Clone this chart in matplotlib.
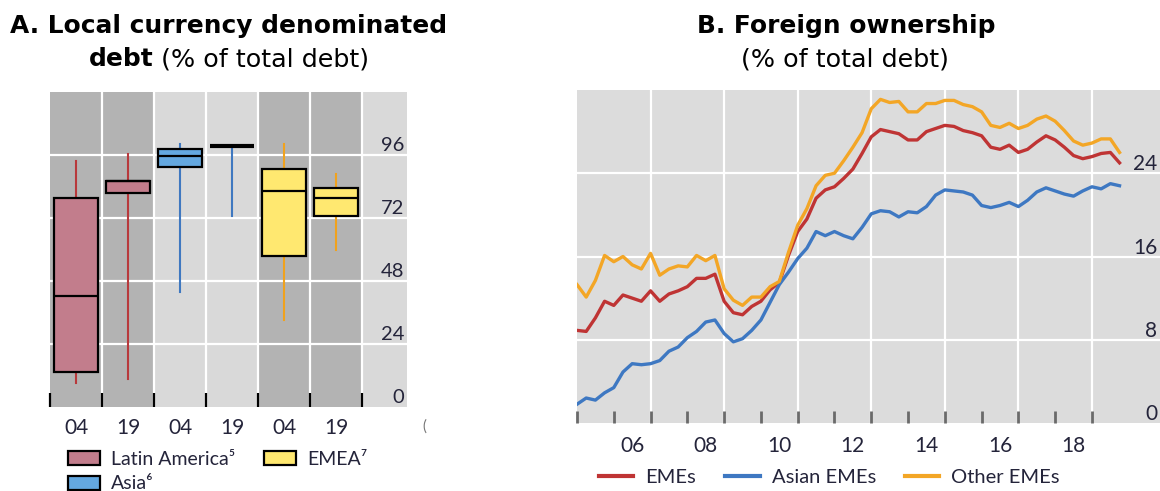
import matplotlib
matplotlib.use("Agg")
import matplotlib.pyplot as plt
import matplotlib.transforms as mtransforms
from matplotlib.patches import Patch
from matplotlib.lines import Line2D
import pandas as pd

# ---- panel A: box plot stats (% of total debt) ----
box_labels = ["04", "19", "04", "19", "04", "19"]
box_regions = ["Latin America", "Latin America", "Asia", "Asia", "EMEA", "EMEA"]
whis_lo = [9.0, 10.6, 43.8, 72.9, 33.3, 59.8]
q1 = [13.2, 81.7, 91.5, 99.4, 57.7, 72.9]
medians = [42.2, 86.0, 95.6, 99.4, 82.1, 79.6]
q3 = [79.6, 86.1, 98.2, 99.4, 90.8, 83.6]
whis_hi = [93.7, 96.3, 100.1, 99.4, 100.1, 88.7]

region_names = ["Latin America⁵", "Asia⁶", "EMEA⁷"]
region_fill = {"Latin America": "#c27d8c", "Asia": "#64a8e0", "EMEA": "#ffe870"}
region_line = {"Latin America": "#b8393c", "Asia": "#3f78c0", "EMEA": "#f0a21e"}

# ---- panel B: foreign ownership, quarterly 2005Q1-2019Q4 ----
quarters = pd.period_range("2005Q1", "2019Q4", freq="Q")
emes = [8.9, 8.8, 10.1, 11.7, 11.3, 12.3, 12.0, 11.7, 12.7, 11.7, 12.4, 12.7,
        13.1, 13.9, 13.9, 14.3, 11.7, 10.6, 10.4, 11.2, 11.7, 12.8,
        13.5, 16.1, 18.4, 19.6, 21.6, 22.4, 22.7, 23.5, 24.4, 25.9, 27.5, 28.2,
        28.0, 27.8, 27.2, 27.2, 28.0, 28.3, 28.6, 28.5,
        28.1, 27.9, 27.6, 26.5, 26.3, 26.7, 26.0, 26.3, 27.0, 27.6, 27.2, 26.5,
        25.7, 25.4, 25.6, 25.9, 26.0, 25.0]
asian_emes = [1.8, 2.4, 2.2, 2.9, 3.4, 4.9, 5.7, 5.6, 5.7, 6.0, 6.9, 7.3,
              8.2, 8.8, 9.7, 9.9, 8.6, 7.8, 8.1, 8.9, 9.9, 11.6,
              13.3, 14.5, 15.8, 16.8, 18.4, 18.0, 18.4, 18.0, 17.7, 18.8, 20.1, 20.4,
              20.3, 19.8, 20.3, 20.2, 20.8, 21.9, 22.4, 22.3,
              22.2, 21.9, 20.9, 20.7, 20.9, 21.2, 20.8, 21.4, 22.2, 22.6, 22.3, 22.0,
              21.8, 22.3, 22.7, 22.5, 23.0, 22.8]
other_emes = [13.3, 12.1, 13.7, 16.1, 15.5, 16.0, 15.2, 14.8, 16.3, 14.2, 14.8, 15.1,
              15.0, 16.1, 15.6, 16.1, 12.9, 11.8, 11.3, 12.1, 12.1, 13.1,
              13.6, 16.4, 19.0, 20.6, 22.8, 23.8, 24.0, 25.2, 26.5, 27.9, 30.2, 31.1,
              30.8, 30.9, 29.9, 29.9, 30.7, 30.7, 31.0, 31.0,
              30.6, 30.4, 29.9, 28.6, 28.4, 28.8, 28.3, 28.6, 29.2, 29.5, 29.0, 28.1,
              27.1, 26.7, 26.9, 27.3, 27.3, 26.0]
year_labels = ["06", "08", "10", "12", "14", "16", "18"]

FONT = ["Lato", "DejaVu Sans"]
TITLE_FONT = ["DejaVu Sans"]
TXT = "#24243a"
plt.rcParams["font.family"] = FONT

fig = plt.figure(figsize=(11.6, 4.91), dpi=100)
W, H = 1160, 491


def px_axes(l, t, r, b):
    return fig.add_axes([l / W, 1 - b / H, (r - l) / W, (b - t) / H])


lift = mtransforms.ScaledTranslation(0, 0.11, fig.dpi_scale_trans)

# ================= panel A =================
axA = px_axes(50, 92, 407, 407)
ncol = 6.865
axA.set_xlim(0, ncol)
axA.set_ylim(0, 120)
shades = ["#b3b3b3", "#b3b3b3", "#d9d9d9", "#d9d9d9", "#b3b3b3", "#b3b3b3", "#d9d9d9"]
for i, c in enumerate(shades):
    axA.axvspan(i, min(i + 1, ncol), color=c, zorder=0, lw=0)
for v in [24, 48, 72, 96]:
    axA.axhline(v, color="white", lw=1.6, zorder=0.5)
for i in range(1, 7):
    axA.axvline(i, color="white", lw=1.6, zorder=0.5)

stats = []
for i in range(len(box_labels)):
    stats.append(dict(med=medians[i], q1=q1[i], q3=q3[i],
                      whislo=whis_lo[i], whishi=whis_hi[i]))
pos = [i + 0.5 for i in range(len(box_labels))]
# whiskers as one thin line running behind the box
for p, lo, hi, reg in zip(pos, whis_lo, whis_hi, box_regions):
    axA.plot([p, p], [lo, hi], color=region_line[reg], lw=1.5, zorder=2)
bp = axA.bxp(stats, positions=pos, widths=0.85, patch_artist=True,
             showcaps=False, showfliers=False, manage_ticks=False,
             boxprops=dict(edgecolor="black", linewidth=1.6),
             medianprops=dict(color="black", linewidth=1.6),
             whiskerprops=dict(linewidth=0))
for box, reg, lo, hi in zip(bp["boxes"], box_regions, q1, q3):
    box.set_facecolor(region_fill[reg])
    box.set_zorder(3)
    if hi - lo < 0.5:
        box.set_linewidth(3)
for m in bp["medians"]:
    m.set_zorder(4)

for s in axA.spines.values():
    s.set_visible(False)
axA.set_xticks(range(7))
axA.set_xticklabels([])
axA.tick_params(axis="x", which="major", direction="in", length=10, width=1.6,
                color="black")
axA.set_xticks(pos, minor=True)
axA.set_xticklabels(box_labels, minor=True)
axA.tick_params(axis="x", which="minor", length=0, pad=8, labelsize=15,
                labelcolor=TXT)
axA.yaxis.tick_right()
axA.set_yticks([0, 24, 48, 72, 96])
axA.tick_params(axis="y", length=0, pad=-2, labelsize=14.5, labelcolor=TXT)
for lab in axA.get_yticklabels():
    lab.set_horizontalalignment("right")
    lab.set_transform(lab.get_transform() + lift)
fig.text(424 / W, 1 - 427 / H, "(", fontsize=11, color="#777777",
         ha="center", va="center")

handlesA = [Patch(facecolor=region_fill[r], edgecolor="black", linewidth=1.6)
            for r in ["Latin America", "Asia", "EMEA"]]
fig.legend(handlesA, region_names, loc="upper left", ncol=2,
           bbox_to_anchor=(68 / W, 1 - 451 / H), frameon=False,
           fontsize=14, handlelength=1.65, handleheight=0.72,
           handletextpad=0.55, columnspacing=1.5, labelspacing=0.38,
           borderaxespad=0, borderpad=0, labelcolor=TXT)

# ================= panel B =================
axB = px_axes(577, 90, 1160, 423)
axB.set_facecolor("#dcdcdc")
xq = [q.year + (q.quarter - 1) / 4 for q in quarters]
axB.plot(xq, emes, color="#bf3434", lw=2.4, zorder=3)
axB.plot(xq, asian_emes, color="#3e78c2", lw=2.4, zorder=3)
axB.plot(xq, other_emes, color="#f3a626", lw=2.4, zorder=3)
axB.set_xlim(2005, 2020.85)
axB.set_ylim(0, 32)
for v in [8, 16, 24]:
    axB.axhline(v, color="white", lw=1.6, zorder=1)
for yr in range(2007, 2021, 2):
    axB.axvline(yr, color="white", lw=1.6, zorder=1)
for s in axB.spines.values():
    s.set_visible(False)
axB.set_xticks(range(2005, 2020))
axB.set_xticklabels([])
axB.tick_params(axis="x", which="major", direction="in", length=8.5, width=2,
                color="#6a6a6a")
axB.set_xticks([2006.5 + 2 * k for k in range(len(year_labels))], minor=True)
axB.set_xticklabels(year_labels, minor=True)
axB.tick_params(axis="x", which="minor", length=0, pad=9, labelsize=15,
                labelcolor=TXT)
axB.yaxis.tick_right()
axB.set_yticks([0, 8, 16, 24])
axB.tick_params(axis="y", length=0, pad=-2, labelsize=15, labelcolor=TXT)
for lab in axB.get_yticklabels():
    lab.set_horizontalalignment("right")
    lab.set_transform(lab.get_transform() + lift)

handlesB = [Line2D([], [], color="#bf3434", lw=3),
            Line2D([], [], color="#3e78c2", lw=3),
            Line2D([], [], color="#f3a626", lw=3)]
fig.legend(handlesB, ["EMEs", "Asian EMEs", "Other EMEs"], loc="center left",
           ncol=3, bbox_to_anchor=(599 / W, 1 - 477 / H), frameon=False,
           fontsize=14.5, handlelength=1.7, handletextpad=0.6,
           columnspacing=1.45, borderaxespad=0, borderpad=0,
           labelcolor=TXT)

# ================= titles =================
TS = 17.9
TS_REG = 18.3
fig.text(229 / W, 1 - 26 / H, "A. Local currency denominated", fontsize=TS,
         fontweight="bold", family=TITLE_FONT, ha="center", va="center")
fig.text(846 / W, 1 - 26 / H, "B. Foreign ownership", fontsize=TS,
         fontweight="bold", family=TITLE_FONT, ha="center", va="center")
fig.text(845 / W, 1 - 59 / H, "(% of total debt)", fontsize=TS_REG,
         family=TITLE_FONT, ha="center", va="center")

# second line of the A title mixes bold and regular: centre the pair
t1 = fig.text(0, 1 - 59 / H, "debt", fontsize=TS, fontweight="bold",
              family=TITLE_FONT, ha="left", va="center")
t2 = fig.text(0, 1 - 59 / H, " (% of total debt)", fontsize=TS_REG,
              family=TITLE_FONT, ha="left", va="center")
fig.canvas.draw()
r = fig.canvas.get_renderer()
w1 = t1.get_window_extent(r).width
w2 = t2.get_window_extent(r).width
x0 = 229 - (w1 + w2) / 2
t1.set_x(x0 / W)
t2.set_x((x0 + w1) / W)

fig.savefig("out.png", dpi=100)
